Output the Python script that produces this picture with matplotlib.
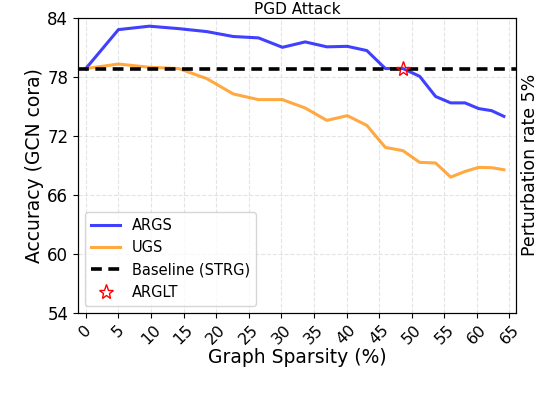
import matplotlib.pyplot as plt
import numpy as np

sparsity = [0, 5, 9.75, 14.26, 18.55, 22.62, 26.49, 30.17, 33.66, 36.98, 40.13,
            43.12, 45.96, 48.67, 51.23, 53.67, 55.99, 58.19, 60.28, 62.26, 64.15]
args_acc = [78.84, 82.8, 83.15, 82.9, 82.6, 82.1, 81.96, 81.0, 81.55, 81.05, 81.1,
            80.67, 78.84, 78.84, 78.05, 76.0, 75.35, 75.35, 74.77, 74.56, 73.98]
ugs_acc = [78.84, 79.3, 78.97, 78.84, 77.82, 76.26, 75.68, 75.68, 74.83, 73.57, 74.05,
           73.06, 70.82, 70.49, 69.3, 69.24, 67.8, 68.38, 68.79, 68.76, 68.55]
baseline = 78.84
arglt_x, arglt_y = 48.67, 78.84

fig = plt.figure(figsize=(5.38, 3.96), dpi=100)
ax = fig.add_axes([0.145, 0.21, 0.814, 0.745])

ax.plot(sparsity, args_acc, color="blue", alpha=0.75, lw=2.2, label="ARGS")
ax.plot(sparsity, ugs_acc, color="darkorange", alpha=0.75, lw=2.2, label="UGS")
ax.axhline(baseline, color="black", ls="--", lw=2.6, dashes=(3, 1.8), label="Baseline (STRG)")
ax.plot(arglt_x, arglt_y, ls="none", marker="*", ms=11, color="red",
        mfc="none", mew=1, label="ARGLT")

ax.set_xlim(-1.2, 66)
ax.set_ylim(54, 84)
ax.set_yticks(np.arange(54, 85, 6))
ax.set_xticks(np.arange(0, 66, 5))
ax.tick_params(axis="x", labelsize=11.5, rotation=45)
ax.tick_params(axis="y", labelsize=12)
ax.grid(True, ls="--", color="lightgray", alpha=0.6)
ax.set_xlabel("Graph Sparsity (%)", fontsize=13.5, labelpad=0)
ax.set_ylabel("Accuracy (GCN cora)", fontsize=13.5, labelpad=2)
ax.set_title("PGD Attack", fontsize=11, pad=3)
ax.legend(loc="lower left", fontsize=10.5)

ax2 = ax.twinx()
ax2.set_yticks([])
ax2.set_ylabel("Perturbation rate 5%", fontsize=12.5)

fig.savefig("out.png", dpi=100)
